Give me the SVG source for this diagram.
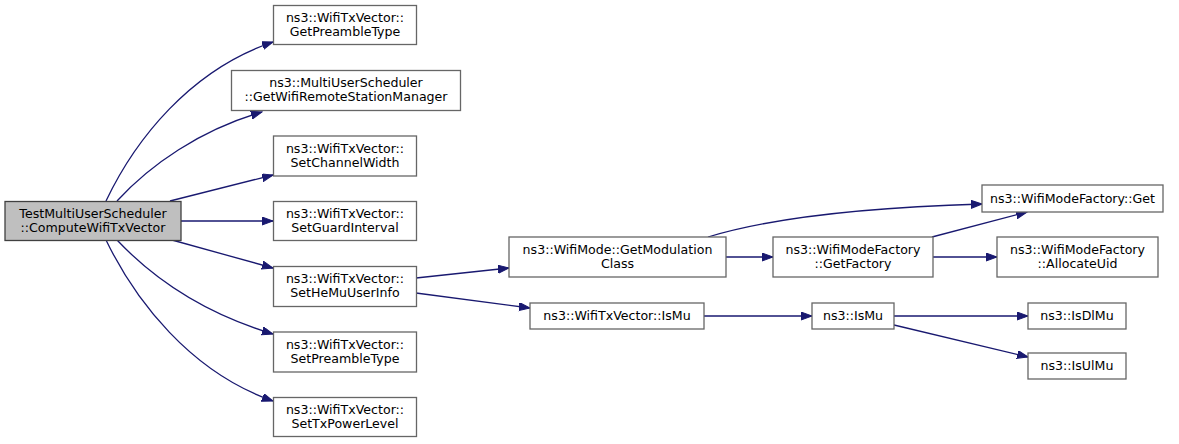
<svg xmlns="http://www.w3.org/2000/svg" width="1179" height="444" viewBox="0 0 1179 444">
<style>
.n rect{fill:#ffffff;stroke:#666666;stroke-width:1.3}
.root rect{fill:#bfbfbf;stroke:#404040;stroke-width:1.3}
text{font-family:"DejaVu Sans","Liberation Sans",sans-serif;font-size:12.6px;fill:#000000;text-anchor:middle}
.e path{fill:none;stroke:#191970;stroke-width:1.3;marker-end:url(#ah)}
</style>
<defs>
<marker id="ah" markerUnits="userSpaceOnUse" markerWidth="12" markerHeight="9" refX="11" refY="4" orient="auto">
<polygon points="0,0 11,4 0,8" fill="#191970" stroke="#191970" stroke-width="1"/>
</marker>
</defs>
<rect width="1179" height="444" fill="#ffffff"/>
<g class="e" id="edges">
<path d="M106,201 C135,140 190,70 273,42"/>
<path d="M117,201 C150,165 200,130 262,112"/>
<path d="M170,201 L273,175"/>
<path d="M181,221 L273,221"/>
<path d="M172,240 L273,268"/>
<path d="M117,240 C150,275 200,312 273,334"/>
<path d="M106,240 C135,300 190,372 273,401"/>
<path d="M416,278 L509,268"/>
<path d="M416,293 L530,308"/>
<path d="M726,257 L773,257"/>
<path d="M708,237 C780,215 880,207 982,204"/>
<path d="M932,237 L1027,212"/>
<path d="M933,257 L997,257"/>
<path d="M704,316 L812,316"/>
<path d="M894,316 L1028,316"/>
<path d="M894,325 L1028,357"/>
</g>
<g class="root" id="node_root"><rect x="5" y="201.5" width="176" height="39"/><text x="93" y="218">TestMultiUserScheduler</text><text x="93" y="232">::ComputeWifiTxVector</text></g>
<g class="n" id="node_getpreamble"><rect x="273.5" y="5.5" width="143" height="39"/><text x="345" y="22">ns3::WifiTxVector::</text><text x="345" y="36">GetPreambleType</text></g>
<g class="n" id="node_getwrsm"><rect x="231.5" y="70.5" width="229" height="40"/><text x="346" y="87">ns3::MultiUserScheduler</text><text x="346" y="101">::GetWifiRemoteStationManager</text></g>
<g class="n" id="node_setchannelwidth"><rect x="273.5" y="136" width="143" height="40"/><text x="345" y="153">ns3::WifiTxVector::</text><text x="345" y="167">SetChannelWidth</text></g>
<g class="n" id="node_setguard"><rect x="273.5" y="201.5" width="143" height="39"/><text x="345" y="218">ns3::WifiTxVector::</text><text x="345" y="232">SetGuardInterval</text></g>
<g class="n" id="node_sethemu"><rect x="273.5" y="266.5" width="143" height="40"/><text x="345" y="283">ns3::WifiTxVector::</text><text x="345" y="297">SetHeMuUserInfo</text></g>
<g class="n" id="node_setpreamble"><rect x="273.5" y="332" width="143" height="40"/><text x="345" y="349">ns3::WifiTxVector::</text><text x="345" y="363">SetPreambleType</text></g>
<g class="n" id="node_settxpower"><rect x="273.5" y="397.5" width="143" height="39"/><text x="345" y="414">ns3::WifiTxVector::</text><text x="345" y="428">SetTxPowerLevel</text></g>
<g class="n" id="node_getmodclass"><rect x="509" y="237" width="217" height="40"/><text x="617.5" y="253.5">ns3::WifiMode::GetModulation</text><text x="617.5" y="267.5">Class</text></g>
<g class="n" id="node_txvismu"><rect x="530" y="303" width="174" height="26"/><text x="617" y="320">ns3::WifiTxVector::IsMu</text></g>
<g class="n" id="node_getfactory"><rect x="773" y="237" width="160" height="40"/><text x="853" y="253.5">ns3::WifiModeFactory</text><text x="853" y="267.5">::GetFactory</text></g>
<g class="n" id="node_get"><rect x="982" y="185" width="181" height="27"/><text x="1072.5" y="202.5">ns3::WifiModeFactory::Get</text></g>
<g class="n" id="node_allocuid"><rect x="997" y="237" width="161" height="40"/><text x="1077.5" y="253.5">ns3::WifiModeFactory</text><text x="1077.5" y="267.5">::AllocateUid</text></g>
<g class="n" id="node_ismu"><rect x="812" y="303" width="82" height="26"/><text x="853" y="320">ns3::IsMu</text></g>
<g class="n" id="node_isdlmu"><rect x="1028" y="303" width="98" height="26"/><text x="1077" y="320">ns3::IsDlMu</text></g>
<g class="n" id="node_isulmu"><rect x="1028" y="353" width="98" height="26"/><text x="1077" y="370">ns3::IsUlMu</text></g>
</svg>
